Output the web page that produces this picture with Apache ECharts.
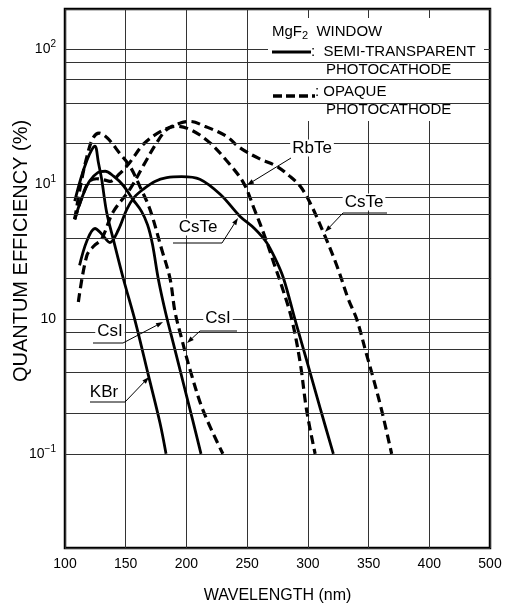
<!DOCTYPE html>
<html><head><meta charset="utf-8">
<script src="https://cdn.jsdelivr.net/npm/echarts/dist/echarts.min.js"></script>
<style>html,body{margin:0;padding:0;background:#fff}#c{width:507px;height:603px}</style>
</head><body><div id="c"></div>
<script>
// ---- axis ticks ----
const wavelengthTicks = [100,150,200,250,300,350,400,450];
const wavelengthTickLabels = ['100','150','200','250','300','350','400','500'];
const qeTickValues = [0.1, 1, 10, 100];
const qeTickExponents = ['\u22121', '', '1', '2'];
const qeMinorGrid = [0.2,0.4,0.6,0.8,2,4,6,8,20,40,60,80];

// ---- curves (wavelength nm, quantum efficiency %) ----
const kbrSemiWl = [108,113,118,122,124.7,127.5,130.2,134.3,139.8,148,158,168.6,178.2,183.2];
const kbrSemiQe = [7.5,11,15,18,19.2,14.5,10.9,6.2,3.9,2.0,0.95,0.385,0.17,0.1];

const csiSemiWl = [108,114,120,127,133,140,148,156,163,168,172,177,183,190,198,205,212];
const csiSemiQe = [5.5,8,10.5,12.2,12.5,11.5,9.8,7.7,6.3,5.0,3.6,1.95,1.1,0.62,0.32,0.18,0.1];

const csiOpaqueWl = [108,113,118,123,128,135,145,153.5,162,170,179.6,186.5,190.6,196,203,213.7,230];
const csiOpaqueQe = [5.5,10,16,22,24,22,17,13.6,9.5,6.5,3.3,2.0,1.13,0.72,0.42,0.21,0.1];

const csteSemiWl = [112,118,124.7,130,137,144,150.8,157,164.5,174,183.8,196,211,228,244,256,266,274,280,290,300,310,321];
const csteSemiQe = [2.5,3.8,4.7,4.3,3.7,4.6,6.5,8,9.2,10.5,11.2,11.4,10.9,8.4,5.8,4.7,3.7,2.7,2.0,0.95,0.46,0.22,0.1];

const rbteOpaqueWl = [108,115,120,126,132,137,145,153.5,165,180,192,205,219.4,233,246.9,256,265,272,279,286.7,293.6,299,306];
const rbteOpaqueQe = [5.5,8.5,10.5,11,10.8,10.5,12,14.6,20,25,27,25,20.3,15,10.3,6.5,4,2.6,1.7,1.0,0.48,0.21,0.1];

const csteOpaqueWl = [111,118,124,130,139.5,153.5,165,175,183.8,195,203,215,233,244,260,274.4,285,293.6,301.8,312.8,323.8,333.4,340.2,348.5,354,360.8,369];
const csteOpaqueQe = [1.34,2.96,3.5,3.9,6.2,9.2,14,20,25.5,28.5,29.3,27,22.7,18.7,15.5,13.6,11.5,9.7,7.3,4.4,2.5,1.4,1.0,0.54,0.36,0.21,0.1];

const FONT = "'Liberation Sans', Arial, Helvetica, sans-serif";

function curve(name, wl, qe, dashed) {
  return {
    name: name, type: 'line', symbol: 'none', smooth: 0.35, z: 3, silent: true,
    data: wl.map((w, i) => [w, qe[i]]),
    lineStyle: { color: '#000', width: dashed ? 3.2 : 2.8, type: dashed ? [9, 5] : 'solid', cap: 'butt' }
  };
}

const chart = echarts.init(document.getElementById('c'), null, { renderer: 'canvas' });

function arrowGraphic(x1, y1, x2, y2) {
  const dx = x2 - x1, dy = y2 - y1, L = Math.hypot(dx, dy);
  const ux = dx / L, uy = dy / L, len = 7, hw = 2.4;
  const bx = x2 - ux * len, by = y2 - uy * len;
  return [
    { type: 'line', z: 6, silent: true, shape: { x1: x1, y1: y1, x2: bx, y2: by }, style: { stroke: '#000', lineWidth: 1 } },
    { type: 'polygon', z: 6, silent: true, shape: { points: [[x2, y2], [bx - uy * hw, by + ux * hw], [bx + uy * hw, by - ux * hw]] }, style: { fill: '#000' } }
  ];
}
function hline(x1, x2, y) {
  return { type: 'line', z: 6, silent: true, shape: { x1: x1, y1: y, x2: x2, y2: y }, style: { stroke: '#000', lineWidth: 1 } };
}
function label(text, cx, cy) {
  return { type: 'text', z: 7, silent: true, x: cx, y: cy,
    style: { text: text, font: '17px ' + FONT, fill: '#000', align: 'center', verticalAlign: 'middle',
             backgroundColor: '#fff', padding: [0, 2] } };
}
function ltext(text, x, cy, rich) {
  const o = { type: 'text', z: 7, silent: true, x: x, y: cy,
    style: { text: text, font: '15px ' + FONT, fill: '#000', align: 'left', verticalAlign: 'middle' } };
  if (rich) o.style.rich = rich;
  return o;
}

const graphics = [];
// legend block (white backdrop masks the grid)
graphics.push({ type: 'rect', z: 1, silent: true, shape: { x: 268, y: 18, width: 216, height: 103 }, style: { fill: '#fff' } });
graphics.push(ltext('MgF{s|2}  WINDOW', 272, 32, { s: { fontSize: 11, fontFamily: FONT, verticalAlign: 'bottom', lineHeight: 19 } }));
graphics.push({ type: 'line', z: 7, silent: true, shape: { x1: 272, y1: 52, x2: 311, y2: 52 }, style: { stroke: '#000', lineWidth: 3 } });
graphics.push(ltext(':  SEMI-TRANSPARENT', 311, 52));
graphics.push(ltext('PHOTOCATHODE', 326, 70));
graphics.push({ type: 'line', z: 7, silent: true, shape: { x1: 273, y1: 96, x2: 315, y2: 96 }, style: { stroke: '#000', lineWidth: 3.4, lineDash: [9, 4] } });
graphics.push(ltext(': OPAQUE', 315, 92));
graphics.push(ltext('PHOTOCATHODE', 326, 110));

// curve annotations
graphics.push(label('RbTe', 312, 148));
graphics.push(...arrowGraphic(291, 158, 247, 185));
graphics.push(label('CsTe', 364, 202));
graphics.push(hline(343, 387, 213));
graphics.push(...arrowGraphic(343, 213, 325, 232));
graphics.push(label('CsTe', 198, 227));
graphics.push(hline(173, 222, 243));
graphics.push(...arrowGraphic(222, 243, 238, 218));
graphics.push(label('CsI', 110, 331));
graphics.push(hline(93, 123, 343));
graphics.push(...arrowGraphic(123, 343, 163, 322));
graphics.push(label('CsI', 218, 318));
graphics.push(hline(200, 237, 331));
graphics.push(...arrowGraphic(200, 331, 187, 343));
graphics.push(label('KBr', 104, 392));
graphics.push(hline(90, 125, 402));
graphics.push(...arrowGraphic(125, 402, 149, 377));
// y axis title
graphics.push({ type: 'text', z: 7, silent: true, x: 21, y: 251, rotation: Math.PI / 2,
  style: { text: 'QUANTUM EFFICIENCY (%)', font: '20px ' + FONT, fill: '#000', align: 'center', verticalAlign: 'middle' } });

const series = [
  curve('KBr semi', kbrSemiWl, kbrSemiQe, false),
  curve('CsI semi', csiSemiWl, csiSemiQe, false),
  curve('CsTe semi', csteSemiWl, csteSemiQe, false),
  curve('CsI opaque', csiOpaqueWl, csiOpaqueQe, true),
  curve('RbTe opaque', rbteOpaqueWl, rbteOpaqueQe, true),
  curve('CsTe opaque', csteOpaqueWl, csteOpaqueQe, true)
];
// minor grid lines through the log axis
series.push({
  type: 'line', data: [], silent: true, z: 0,
  markLine: { silent: true, symbol: 'none', animation: false, label: { show: false },
    lineStyle: { color: '#333', width: 1, type: 'solid' },
    data: qeMinorGrid.map(v => ({ yAxis: v })) }
});

chart.setOption({
  animation: false,
  backgroundColor: '#fff',
  grid: { left: 65, right: 17, top: 9, bottom: 55, containLabel: false, outerBoundsMode: 'none',
          show: true, borderColor: '#000', borderWidth: 2.5, backgroundColor: 'transparent' },
  xAxis: {
    type: 'value', min: 100, max: 450, interval: 50,
    name: 'WAVELENGTH (nm)', nameLocation: 'middle', nameGap: 40,
    nameTextStyle: { fontFamily: FONT, fontSize: 16, color: '#000' },
    axisLine: { show: false }, axisTick: { show: false },
    splitLine: { show: true, lineStyle: { color: '#333', width: 1 } },
    axisLabel: { fontFamily: FONT, fontSize: 14, color: '#000', margin: 9,
      formatter: v => { const i = wavelengthTicks.indexOf(v); return i >= 0 ? wavelengthTickLabels[i] : ''; } }
  },
  yAxis: {
    type: 'log', logBase: 10, min: 0.02, max: 200,
    axisLine: { show: false }, axisTick: { show: false },
    splitLine: { show: true, lineStyle: { color: '#333', width: 1 } },
    axisLabel: { fontFamily: FONT, color: '#000', margin: 9,
      formatter: v => {
        for (let i = 0; i < qeTickValues.length; i++) {
          if (Math.abs(Math.log10(v) - Math.log10(qeTickValues[i])) < 1e-6) {
            return qeTickExponents[i] ? '{b|10}{s|' + qeTickExponents[i] + '}' : '{b|10}';
          }
        }
        return '';
      },
      rich: { b: { fontSize: 14, fontFamily: FONT, lineHeight: 20, verticalAlign: 'middle' },
              s: { fontSize: 10, fontFamily: FONT, lineHeight: 20, verticalAlign: 'top' } }
    }
  },
  graphic: graphics,
  series: series
});
</script></body></html>
